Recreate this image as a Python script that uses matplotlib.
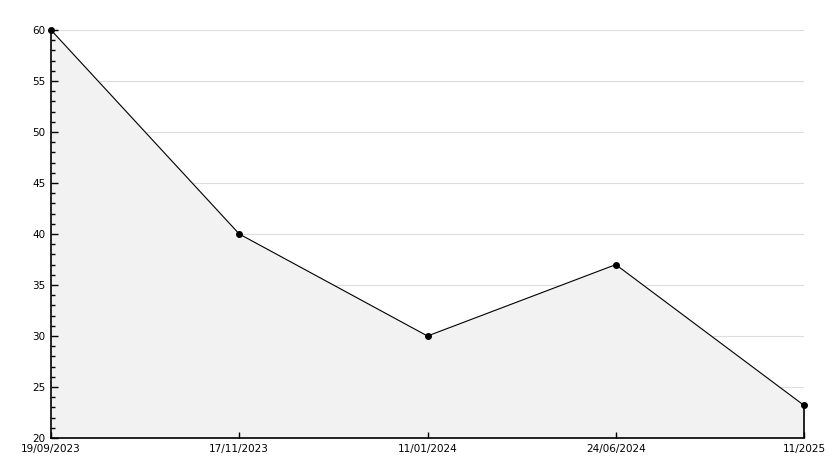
import matplotlib
matplotlib.use('Agg')
import matplotlib.pyplot as plt
from matplotlib.ticker import MultipleLocator

labels = ['19/09/2023', '17/11/2023', '11/01/2024', '24/06/2024', '11/2025']
values = [60, 40, 30, 37, 23.2]
y_min, y_max = 20, 60

x = list(range(len(values)))

fig = plt.figure(figsize=(8.34, 4.68), dpi=100)
ax = fig.add_axes([51 / 834, 30 / 468, 753 / 834, 408 / 468])

# gridlines sit under the fill
grid_vals = list(range(y_min + 5, y_max + 1, 5))
ax.hlines(grid_vals, x[0], x[-1], color='#dddddd', linewidth=0.8, zorder=0)

ax.fill_between(x, values, y_min, color='#f2f2f2', zorder=1)
ax.plot(x, values, color='black', linewidth=0.8, marker='o', markersize=4,
        zorder=4, clip_on=False)
ax.vlines(x[-1], y_min, values[-1], color='black', linewidth=1.2, zorder=4, clip_on=False)

ax.set_xlim(0, len(values) - 1)
ax.set_ylim(y_min, y_max)
ax.set_xticks(x)
ax.set_xticklabels(labels)
ax.yaxis.set_major_locator(MultipleLocator(5))
ax.yaxis.set_minor_locator(MultipleLocator(1))
ax.set_axisbelow(False)

for side in ['top', 'right']:
    ax.spines[side].set_visible(False)
ax.spines['left'].set_linewidth(1.2)
ax.spines['bottom'].set_linewidth(1.2)

ax.tick_params(axis='y', which='major', direction='in', length=5, width=1, labelsize=7.5, pad=4)
ax.tick_params(axis='y', which='minor', direction='in', length=3, width=1)
ax.tick_params(axis='x', direction='in', length=4, width=1, labelsize=7.5, pad=4)

fig.savefig('out.png', dpi=100)
